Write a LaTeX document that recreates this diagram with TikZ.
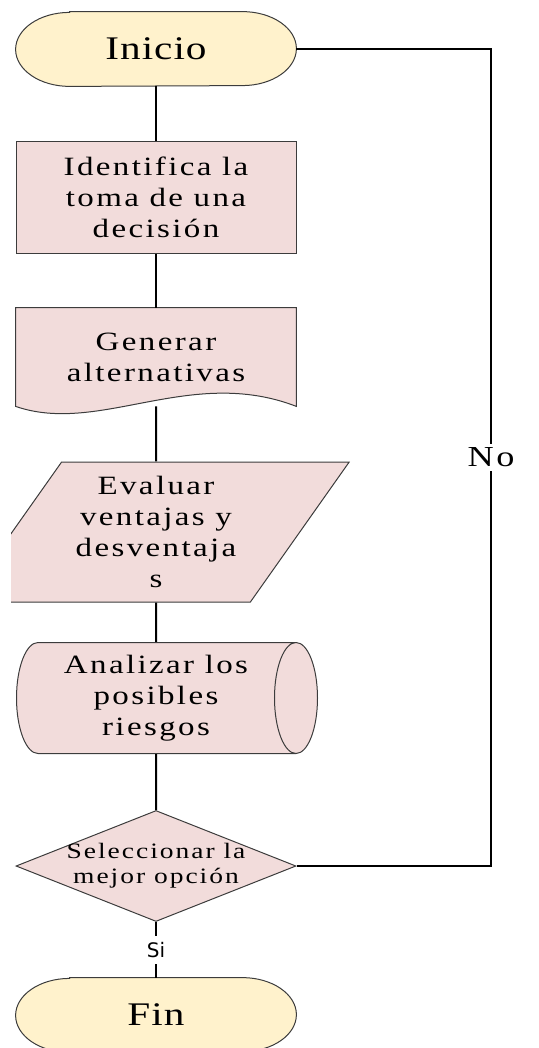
\documentclass[tikz,border=0pt]{standalone}
\usepackage{fontspec}
\setmainfont{Liberation Serif}
\newfontfamily\cuerpo{Liberation Serif}[FakeStretch=1.25,LetterSpace=9]
\newfontfamily\term{Liberation Serif}[FakeStretch=1.25,LetterSpace=3]
\newfontfamily\sifont{DejaVu Sans}
\usetikzlibrary{shapes.geometric,backgrounds}
\definecolor{amarillo}{RGB}{255,242,204}
\definecolor{rosa}{RGB}{242,220,219}
\definecolor{borde}{RGB}{60,60,60}
\tikzset{
  texto/.style={align=center,inner sep=0pt,font=\cuerpo\fontsize{13.2}{15.5}\selectfont},
  contorno/.style={draw=borde,line width=0.5pt},
  terminal/.style={texto,minimum width=140pt,minimum height=37pt,font=\term\fontsize{16.5}{18}\selectfont},
  proceso/.style={texto,rectangle,contorno,fill=rosa,minimum width=140pt,minimum height=55.5pt},
  documento/.style={texto,minimum width=140pt,minimum height=49pt},
  datos/.style={texto,trapezium,contorno,fill=rosa,trapezium left angle=53,trapezium right angle=127,
    trapezium stretches=true,minimum width=193.5pt,minimum height=70pt},
  almacen/.style={texto,cylinder,contorno,fill=rosa,shape border rotate=0,aspect=0.5,
    minimum width=55.5pt,minimum height=150.5pt},
  decision/.style={texto,diamond,contorno,fill=rosa,aspect=2.52,inner sep=-2pt,
    minimum width=140pt,minimum height=55.5pt,font=\cuerpo\fontsize{11}{12.5}\selectfont},
  linea/.style={line width=1pt},
  etiq/.style={fill=white,inner sep=2pt,font=\cuerpo\fontsize{14.5}{16}\selectfont},
  etiqsi/.style={fill=white,inner sep=3pt,font=\sifont\fontsize{10}{12}\selectfont}
}
\begin{document}
\begin{tikzpicture}[x=0.5pt,y=-0.5pt]
  \useasboundingbox (0,0) rectangle (539,1048);
  \node[terminal] (ini) at (156,49) {Inicio};
  \node[proceso] (iden) at (156,197.5) {Identifica la\\toma de una\\decisión};
  \node[documento] (gen) at (156,357) {Generar\\alternativas};
  \begin{scope}
    \clip (11,0) rectangle (539,1048);
    \node[datos] (eva) at (156,532) {Evaluar\\ventajas y\\desventaja\\s};
  \end{scope}
  \node[almacen] (ana) at (156,698) {Analizar los\\posibles\\riesgos};
  \node[decision] (sel) at (156,866) {Seleccionar la\\mejor opción};
  \node[terminal] (fin) at (156,1015) {Fin};
  \coordinate (esq) at (491,49);
  % contornos de inicio, fin y documento
  \begin{scope}[on background layer]
    \foreach \t in {ini,fin}
      \filldraw[contorno,fill=amarillo] ([xshift=27pt]\t.north west) -- ([xshift=-27pt]\t.north east)
        arc[start angle=90,end angle=-90,x radius=27pt,y radius=18.5pt]
        -- ([xshift=27pt]\t.south west)
        arc[start angle=270,end angle=90,x radius=27pt,y radius=18.5pt] -- cycle;
    \filldraw[contorno,fill=rosa] (gen.north west) -- (gen.north east) -- (gen.south east)
      .. controls +(-106,-41) and +(84,29) .. (gen.south west) -- cycle;
  \end{scope}
  % conectores
  \draw[linea] (ini) -- (iden);
  \draw[linea] (iden) -- (gen);
  \draw[linea] (gen) -- (eva);
  \draw[linea] (eva) -- (ana);
  \draw[linea] (ana) -- (sel);
  \draw[linea] (sel) -- node[etiqsi]{Si} (fin);
  \draw[linea] (ini.east) -- (esq) -- node[etiq]{No} (esq |- sel.east) -- (sel.east);
\end{tikzpicture}
\end{document}
